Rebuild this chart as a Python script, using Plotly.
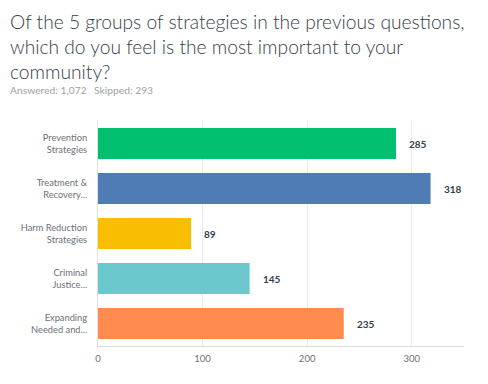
import plotly.graph_objects as go

categories = ["Prevention<br>Strategies", "Treatment &<br>Recovery...", "Harm Reduction<br>Strategies",
              "Criminal<br>Justice...", "Expanding<br>Needed and..."]
values = [285, 318, 89, 145, 235]
colors = ["#00bf6f", "#507cb6", "#f9be00", "#6bc8cd", "#ff8b4f"]
x_ticks = [0, 100, 200, 300]
title_lines = ["Of the 5 groups of strategies in the previous questions,",
               "which do you feel is the most important to your",
               "community?"]
answered = "Answered: 1,072"
skipped = "Skipped: 293"

FONT = "Lato"
FW, FH = 480, 376          # page body has an 8px margin
L, T, W, H = 90, 113, 366, 225

def px(x):
    return (x - L) / W

def py(y):
    return 1 + (T - y) / H

fig = go.Figure()
fig.add_trace(go.Bar(
    y=categories, x=values, orientation="h",
    marker=dict(color=colors, line=dict(width=0)),
    width=0.69, hoverinfo="skip",
))

for c, v in zip(categories, values):
    fig.add_annotation(x=v, y=c, text=f"<b>{v}</b>", showarrow=False,
                       xanchor="left", xshift=11,
                       font=dict(family=FONT, size=10, color="#333e48"))

fig.add_annotation(xref="paper", yref="paper", x=px(0), y=py(0),
                   xanchor="left", yanchor="top", align="left", showarrow=False,
                   text="<br>".join(title_lines),
                   font=dict(family=FONT, size=19.2, color="#333e48", weight=300))
fig.add_annotation(xref="paper", yref="paper", x=px(0), y=py(82),
                   xanchor="left", yanchor="middle", showarrow=False,
                   text=answered, font=dict(family=FONT, size=10.3, color="#9da1a5"))
fig.add_annotation(xref="paper", yref="paper", x=px(84), y=py(82),
                   xanchor="left", yanchor="middle", showarrow=False,
                   text=skipped, font=dict(family=FONT, size=10.3, color="#9da1a5"))

fig.update_layout(
    width=FW, height=FH,
    margin=dict(l=L, r=FW - L - W, t=T, b=FH - T - H, pad=0),
    plot_bgcolor="white", paper_bgcolor="white",
    showlegend=False,
    xaxis=dict(range=[0, 350], tickvals=x_ticks, showgrid=True, gridcolor="#ebebeb",
               zeroline=False, showline=True, linecolor="#d9d9d9", linewidth=1,
               tickfont=dict(family=FONT, size=9.5, color="#6b7177"), ticks="",
               ticklabelstandoff=4, fixedrange=True, automargin=False),
    yaxis=dict(autorange="reversed", showline=True, linecolor="#e3e3e3",
               tickfont=dict(family=FONT, size=9.3, color="#6b7177"), ticks="",
               ticklabelstandoff=8, fixedrange=True, automargin=False),
)

fig.write_html("out.html")
